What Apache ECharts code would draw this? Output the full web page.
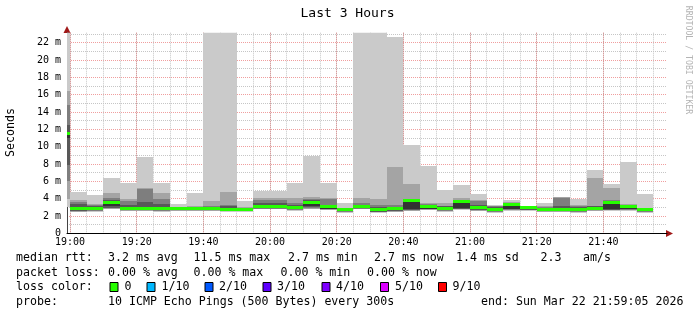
<!DOCTYPE html>
<html><head><meta charset="utf-8">
<script src="https://cdn.jsdelivr.net/npm/echarts@6/dist/echarts.min.js"></script>
<style>html,body{margin:0;padding:0;background:#fff}#c{width:697px;height:315px}</style>
</head><body><div id="c"></div>
<script>
// ---- data ----
const binStart = ['18:55','19:00','19:05','19:10','19:15','19:20','19:25','19:30','19:35','19:40','19:45','19:50','19:55',
  '20:00','20:05','20:10','20:15','20:20','20:25','20:30','20:35','20:40','20:45','20:50','20:55',
  '21:00','21:05','21:10','21:15','21:20','21:25','21:30','21:35','21:40','21:45','21:50'];
const stepSeconds = 300;
// sorted ping rtts per bin (ms), p1 = fastest ... p10 = slowest
const p1  = [3.0, 2.45,2.5,2.8,2.55,2.55,2.5,2.55,2.55,2.55,2.5,2.5,2.75,2.75,2.6,2.8,2.65,2.4,2.75,2.4,2.45,2.55,2.65,2.5,2.7,2.55,2.4,2.6,2.62,2.45,2.45,2.4,2.55,2.6,2.6,2.4];
const p2  = [4.0, 2.5,2.55,2.85,2.6,2.6,2.55,2.6,2.6,2.6,2.55,2.55,2.8,2.8,2.65,2.85,2.7,2.45,2.8,2.42,2.5,2.6,2.7,2.55,2.75,2.6,2.45,2.65,2.65,2.5,2.5,2.45,2.6,2.64,2.65,2.45];
const p3  = [6.0, 2.55,2.6,2.9,2.65,2.65,2.6,2.65,2.65,2.65,2.6,2.6,2.85,2.85,2.7,2.9,2.75,2.5,2.85,2.45,2.55,2.65,2.75,2.6,2.8,2.65,2.5,2.7,2.68,2.55,2.55,2.5,2.65,2.68,2.7,2.5];
const p4  = [7.9, 2.6,2.65,2.95,2.7,2.7,2.65,2.7,2.7,2.7,2.65,2.65,2.9,2.9,2.75,3.0,2.8,2.55,2.9,2.5,2.6,2.7,2.8,2.65,2.85,2.7,2.55,2.75,2.7,2.6,2.6,2.55,2.7,2.72,2.75,2.55];
const p5  = [10.96, 2.65,2.7,3.1,2.75,2.75,2.7,2.75,2.75,2.75,2.7,2.7,3.0,3.0,2.8,3.15,2.85,2.6,2.95,2.55,2.7,2.77,2.85,2.7,2.9,2.75,2.6,2.8,2.75,2.65,2.65,2.6,2.75,2.77,2.8,2.6];
const p6  = [11.6, 3.05,3.0,3.7,3.0,3.05,3.0,2.95,2.95,3.0,2.95,2.9,3.3,3.3,3.05,3.75,3.15,2.8,3.2,2.9,2.95,3.8,3.15,3.0,3.7,3.1,2.9,3.4,3.0,2.9,2.95,2.85,3.0,3.65,3.2,2.8];
const p7  = [12.5, 3.35,3.2,3.85,3.27,3.65,3.4,2.96,3.0,3.05,3.1,2.93,3.5,3.5,3.3,3.85,3.3,2.82,3.3,3.0,3.0,3.85,3.3,3.1,3.8,3.3,3.0,3.45,3.0,2.95,3.1,3.0,3.1,3.75,3.25,2.85];
const p8  = [14.8, 3.58,3.3,4.1,3.77,5.08,3.92,2.98,3.05,3.1,3.27,2.95,3.9,3.9,3.46,4.0,3.95,2.85,3.54,3.27,3.27,3.92,3.4,3.2,3.9,3.77,3.1,3.55,3.02,3.0,4.1,3.15,3.2,3.84,3.3,2.9];
const p9  = [16.45, 3.85,3.4,4.7,4.0,5.27,4.7,3.0,3.1,3.77,4.8,3.0,4.04,4.04,4.1,4.15,4.04,2.9,4.04,3.96,7.7,5.7,3.54,3.46,4.04,3.85,3.15,3.65,3.05,3.1,4.15,3.25,6.42,5.23,3.35,2.95];
const p10 = [24, 4.8,4.42,6.42,5.85,8.85,5.85,3.38,4.7,24,24,3.77,4.92,4.92,5.85,8.96,5.77,3.46,24,24,22.65,10.2,7.8,5.0,5.58,4.54,3.27,3.85,3.08,3.5,4.2,3.96,7.3,5.7,8.23,4.54];
const median = [11.5, 2.9,2.88,3.5,2.9,2.9,2.85,2.85,2.85,2.9,2.8,2.8,3.15,3.15,2.92,3.6,3.05,2.7,3.1,2.77,2.85,3.75,3.05,2.88,3.62,2.97,2.75,3.3,2.92,2.8,2.8,2.72,2.88,3.55,3.12,2.7];
const yTicks = [0,2,4,6,8,10,12,14,16,18,20,22];
const xMajorTicks = ['19:00','19:20','19:40','20:00','20:20','20:40','21:00','21:20','21:40'];
const xMinorTicks = ['19:00','19:05','19:10','19:15','19:20','19:25','19:30','19:35','19:40','19:45','19:50','19:55',
  '20:00','20:05','20:10','20:15','20:20','20:25','20:30','20:35','20:40','20:45','20:50','20:55',
  '21:00','21:05','21:10','21:15','21:20','21:25','21:30','21:35','21:40','21:45','21:50','21:55'];
const rowRtt = ['3.2 ms avg','11.5 ms max','2.7 ms min','2.7 ms now','1.4 ms sd','2.3','am/s'];
const rowLoss = ['0.00 % avg','0.00 % max','0.00 % min','0.00 % now'];
const lossLabels = ['0','1/10','2/10','3/10','4/10','5/10','9/10'];
const lossColors = ['#26ff00','#00b8ff','#0059ff','#5e00ff','#7e00ff','#dd00ff','#ff0000'];
const probeText = '10 ICMP Echo Pings (500 Bytes) every 300s';
const endText = 'end: Sun Mar 22 21:59:05 2026';

// ---- build ----
const T = s => { const [h, m] = s.split(':').map(Number); return Date.UTC(2026, 2, 22, h, m, 0); };
const xMin = Date.UTC(2026, 2, 22, 18, 59, 5), xMax = Date.UTC(2026, 2, 22, 21, 59, 5);
const data = binStart.map((s, i) => [T(s), T(s) + stepSeconds * 1000, p1[i], p2[i], p3[i], p4[i], p5[i], p6[i], p7[i], p8[i], p9[i], p10[i], median[i]]);

const MONO = '"DejaVu Sans Mono", monospace';
const smoke = [[2, 11, '#cacaca'], [3, 10, '#a4a4a4'], [4, 9, '#7e7e7e'], [5, 8, '#585858'], [6, 7, '#323232']];
function renderItem(params, api) {
  const cs = params.coordSys;
  const clip = { x: cs.x, y: cs.y, width: cs.width, height: cs.height };
  const t0 = api.value(0), t1 = api.value(1);
  const children = [];
  smoke.forEach(([lo, hi, col]) => {
    const a = api.coord([t0, api.value(lo)]), b = api.coord([t1, api.value(hi)]);
    const x0 = Math.round(a[0]), x1 = Math.round(b[0]);
    const yTop = Math.round(b[1]), yBot = Math.round(a[1]);
    const r = echarts.graphic.clipRectByRect({ x: x0, y: yTop, width: x1 - x0, height: yBot - yTop }, clip);
    if (r) children.push({ type: 'rect', shape: r, style: { fill: col } });
  });
  const m0 = api.coord([t0, api.value(12)]), m1 = api.coord([t1, api.value(12)]);
  const x0 = Math.round(m0[0]), x1 = Math.round(m1[0]);
  const r = echarts.graphic.clipRectByRect({ x: x0, y: Math.round(m0[1] - 1.5), width: x1 - x0, height: 3 }, clip);
  if (r) children.push({ type: 'rect', shape: r, style: { fill: lossColors[0] } });
  return { type: 'group', children };
}

const pad = n => (n < 10 ? '0' : '') + n;
const RED = 'rgba(215,0,0,0.38)', GRAY = '#c6c6c6';

const graphics = [];
graphics.push({ type: 'text', x: 347.5, y: 14, style: { text: 'Last 3 Hours', font: '13px ' + MONO, fill: '#000', align: 'center', verticalAlign: 'middle' } });
graphics.push({ type: 'text', x: 11, y: 132.5, rotation: Math.PI / 2, style: { text: 'Seconds', font: '11.6px ' + MONO, fill: '#000', align: 'center', verticalAlign: 'middle' } });
graphics.push({ type: 'text', x: 688, y: 60, rotation: -Math.PI / 2, style: { text: 'RRDTOOL / TOBI OETIKER', font: '8.2px ' + MONO, fill: '#b4b4b4', align: 'center', verticalAlign: 'middle' } });
// axis arrows
graphics.push({ type: 'polygon', shape: { points: [[666, 230], [673, 233.5], [666, 237]] }, style: { fill: '#a01818' } });
graphics.push({ type: 'polygon', shape: { points: [[63.5, 33], [67, 26], [70.5, 33]] }, style: { fill: '#a01818' } });
const LF = '11.6px ' + MONO;
const txt = (t, x, y) => graphics.push({ type: 'text', x, y, style: { text: t, font: LF, fill: '#000', align: 'left', verticalAlign: 'middle' } });
const rows = [258, 272.5, 287, 302];
txt('median rtt:', 16, rows[0]);
[108, 193.5, 288, 374, 456, 540.5, 583].forEach((x, i) => txt(rowRtt[i], x, rows[0]));
txt('packet loss:', 16, rows[1]);
[108, 193.5, 280.5, 367].forEach((x, i) => txt(rowLoss[i], x, rows[1]));
txt('loss color:', 16, rows[2]);
const boxX = [109.5, 146.5, 204.5, 262.5, 321.5, 380, 438];
const labX = [124.5, 161.5, 219, 277, 336, 395, 452.5];
lossLabels.forEach((l, i) => {
  graphics.push({ type: 'rect', shape: { x: boxX[i] + 0.5, y: rows[2] - 4.5, width: 8, height: 9 }, style: { fill: lossColors[i], stroke: '#000', lineWidth: 1 } });
  txt(l, labX[i], rows[2]);
});
txt('probe:', 16, rows[3]);
txt(probeText, 108, rows[3]);
txt(endText, 481, rows[3]);

const chart = echarts.init(document.getElementById('c'), null, { renderer: 'canvas' });
chart.setOption({
  animation: false,
  backgroundColor: '#fff',
  grid: { left: 67, right: 30, top: 32.7, bottom: 81.7, outerBoundsMode: 'none' },
  xAxis: [
    {
      type: 'value', min: xMin, max: xMax, position: 'bottom', scale: true,
      axisLine: { show: true, onZero: false, lineStyle: { color: '#000', width: 1 } },
      axisTick: { show: false, customValues: xMajorTicks.map(T) },
      axisLabel: {
        show: true, margin: 4, customValues: xMajorTicks.map(T),
        fontFamily: MONO, fontSize: 10, color: '#000',
        formatter: v => { const d = new Date(v); return pad(d.getUTCHours()) + ':' + pad(d.getUTCMinutes()); }
      },
      splitLine: { show: true, lineStyle: { color: RED, type: [1, 1], width: 1 } },
      z: 3
    },
    {
      type: 'value', min: xMin, max: xMax, position: 'top', scale: true,
      axisLine: { show: false },
      axisTick: { show: false, customValues: xMinorTicks.map(T) },
      axisLabel: { show: false, customValues: xMinorTicks.map(T) },
      splitLine: { show: true, lineStyle: { color: GRAY, type: [1, 1], width: 1 } },
      z: 1
    }
  ],
  yAxis: {
    type: 'value', min: 0, max: 23.15, interval: 1,
    axisLine: { show: true, lineStyle: { color: '#444', width: 1 } },
    axisTick: { show: false },
    axisLabel: {
      show: true, showMaxLabel: false, margin: 6,
      fontFamily: MONO, fontSize: 10, color: '#000',
      formatter: v => (yTicks.indexOf(v) < 0 ? '' : (v === 0 ? '0' : v + ' m'))
    },
    splitLine: { show: true, showMaxLine: false, lineStyle: { color: [RED, GRAY], type: [1, 1], width: 1 } }
  },
  series: [{
    type: 'custom', xAxisIndex: 0, yAxisIndex: 0,
    renderItem, data,
    encode: { x: [0, 1], y: [2, 11] },
    silent: true, z: 5
  }],
  graphic: graphics
});
</script></body></html>
